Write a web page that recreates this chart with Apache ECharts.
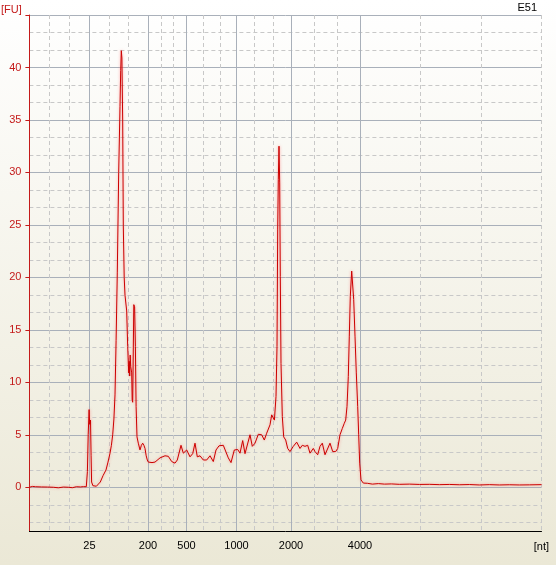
<!DOCTYPE html>
<html>
<head>
<meta charset="utf-8">
<title>E51</title>
<script src="https://cdn.jsdelivr.net/npm/echarts@6/dist/echarts.min.js"></script>
<style>
    html, body { margin: 0; padding: 0; }
    #chart { width: 556px; height: 565px; }
</style>
</head>
<body>
<div id="chart"></div>
<script>
// ladder: size labels and where they sit on the time axis (s)
const ladderSizes = ['25', '200', '500', '1000', '2000', '4000'];
const ladderTimes = [23.0, 28.86, 32.71, 37.71, 43.16, 50.06];
// dashed grid lines, three steps between ladder lines
const minorTimes = [19.0, 21.0, 24.95, 26.91, 30.14, 31.43, 34.38, 36.04, 39.53, 41.34, 45.46, 47.76, 56.11, 62.16, 68.21];
const timeMin = 17.0;
const timeMax = 68.21;

// y ticks [FU]
const fuTicks = [0, 5, 10, 15, 20, 25, 30, 35, 40, 45];
const fuLabels = [0, 5, 10, 15, 20, 25, 30, 35, 40];
const fuMin = -25 / 6;
const fuMax = 45;

// electropherogram trace
const migrationTime = [
    17.0, 17.3, 17.6, 18.2, 18.8, 19.4, 19.9, 20.4, 20.9, 21.3, 21.7, 22.1, 22.4, 22.69,
    22.80, 22.88, 22.97, 23.03, 23.11, 23.17, 23.22, 23.35, 23.5, 23.7, 23.9, 24.09, 24.36,
    24.66, 24.86, 25.06, 25.2, 25.33, 25.45, 25.56, 25.67, 25.79, 25.93, 26.06, 26.13, 26.19,
    26.25, 26.29, 26.33, 26.39, 26.48, 26.56, 26.73, 26.83, 26.93, 26.98, 27.03, 27.08, 27.13,
    27.23, 27.28, 27.33, 27.40, 27.44, 27.52, 27.60, 27.67, 27.76, 27.89, 28.06, 28.2, 28.33,
    28.45, 28.56, 28.68, 28.79, 28.89, 29.26, 29.56, 30.06, 30.56, 30.89, 31.23, 31.56, 31.79,
    32.16, 32.39, 32.73, 33.06, 33.33, 33.56, 33.79, 34.06, 34.39, 34.73, 35.06, 35.39, 35.66,
    35.96, 36.39, 36.56, 36.89, 37.16, 37.49, 37.83, 38.06, 38.33, 38.56, 38.73, 39.06, 39.29,
    39.56, 39.89, 40.23, 40.49, 40.73, 41.06, 41.23, 41.39, 41.50, 41.56, 41.66, 41.76, 41.83,
    41.89, 41.96, 42.03, 42.09, 42.16, 42.29, 42.43, 42.63, 42.83, 43.06, 43.39, 43.73, 44.06,
    44.29, 44.56, 44.83, 45.06, 45.39, 45.56, 45.83, 46.06, 46.29, 46.56, 46.76, 47.06, 47.33,
    47.63, 47.83, 48.06, 48.29, 48.49, 48.63, 48.76, 48.89, 48.99, 49.09, 49.23, 49.36, 49.43,
    49.56, 49.69, 49.83, 49.93, 50.03, 50.16, 50.26, 50.39, 50.8, 51.3, 51.9, 52.5, 53.2, 54.0,
    55.0, 56.0, 57.0, 58.0, 59.0, 60.0, 61.0, 62.0, 63.0, 64.0, 65.0, 66.0, 67.0, 68.21
];
const fluorescence = [
    0.0, 0.08, 0.05, 0.03, 0.02, 0.0, -0.05, 0.02, 0.0, -0.04, 0.05, 0.03, 0.06, 0.05,
    1.5, 5.0, 7.4, 6.0, 6.4, 3.0, 0.5, 0.15, 0.12, 0.1, 0.15, 0.5, 1.1,
    1.65, 2.4, 3.25, 4.0, 5.0, 6.5, 8.8, 14.0, 20.5, 30.0, 36.3, 39.7, 41.6,
    40.9, 41.0, 34.9, 24.9, 20.0, 18.3, 16.8, 13.4, 10.9, 12.0, 10.6, 12.6, 11.5,
    10.9, 8.3, 8.1, 8.2, 17.4, 17.2, 13.4, 7.7, 4.8, 4.2, 3.56, 4.0, 4.2,
    4.0, 3.7, 3.0, 2.6, 2.4, 2.35, 2.4, 2.8, 3.0, 2.95, 2.45, 2.3, 2.6,
    4.0, 3.25, 3.55, 2.9, 3.2, 4.2, 2.9, 3.0, 2.6, 2.6, 3.0, 2.45, 3.55,
    3.95, 4.0, 3.95, 2.8, 2.35, 3.55, 3.6, 3.25, 4.45, 3.2, 3.2, 5.0, 3.9,
    4.2, 5.05, 5.0, 4.5, 5.15, 5.95, 6.9, 7.05, 6.4, 6.5, 8.65, 13.4, 24.6,
    29.3, 32.5, 29.0, 20.1, 11.8, 6.75, 4.8, 4.5, 3.7, 3.4, 3.9, 4.3, 3.7,
    4.0, 3.9, 4.0, 3.25, 3.7, 3.4, 3.1, 3.9, 4.2, 3.1, 3.1, 4.2, 3.4,
    3.4, 3.7, 5.0, 5.6, 6.1, 6.4, 7.7, 10.55, 14.4, 18.2, 20.6, 20.5, 17.9,
    14.4, 10.9, 7.7, 5.0, 2.3, 0.7, 0.55, 0.4, 0.38, 0.3, 0.35, 0.3, 0.32, 0.28,
    0.3, 0.27, 0.28, 0.25, 0.27, 0.24, 0.26, 0.22, 0.25, 0.22, 0.24, 0.22, 0.23, 0.25
];

// dashed y lines, three steps between labelled ones
const fuMinor = [-10 / 3, -5 / 3];
fuTicks.slice(0, -1).forEach((v) => {
    fuMinor.push(v + 5 / 3, v + 10 / 3);
});

const red = '#c41a1a';
const solidGrid = '#a9b0ba';
const dashGrid = '#c8c8c8';
const font = 'Liberation Sans, Arial, sans-serif';

const chart = echarts.init(document.getElementById('chart'), null, { renderer: 'canvas' });

const option = {
    animation: false,
    backgroundColor: new echarts.graphic.LinearGradient(0, 0, 0, 1, [
        { offset: 0, color: '#ffffff' },
        { offset: 1, color: '#ebe8d6' }
    ]),
    grid: {
        left: 29.4,
        right: 14.5,
        top: 15,
        bottom: 34
    },
    graphic: [
        { type: 'text', left: 1, top: 4, style: { text: '[FU]', fill: red, font: '11px ' + font } },
        { type: 'text', right: 19, top: 2, style: { text: 'E51', fill: '#000', font: '11px ' + font } },
        { type: 'text', right: 7, top: 541, style: { text: '[nt]', fill: '#000', font: '11px ' + font } }
    ],
    xAxis: [
        {
            type: 'value',
            min: timeMin,
            max: timeMax,
            axisLine: { onZero: false, lineStyle: { color: '#000', width: 1 } },
            axisTick: { show: false, customValues: ladderTimes },
            axisLabel: {
                customValues: ladderTimes,
                margin: 9,
                color: '#000',
                fontFamily: font,
                fontSize: 11,
                formatter: (v) => {
                    const i = ladderTimes.findIndex((t) => Math.abs(t - v) < 0.01);
                    return i >= 0 ? ladderSizes[i] : '';
                }
            },
            splitLine: { show: true, lineStyle: { color: solidGrid, width: 1 } }
        },
        {
            type: 'value',
            min: timeMin,
            max: timeMax,
            axisLine: { show: false },
            axisTick: { show: false, customValues: minorTimes },
            axisLabel: { show: false },
            splitLine: { show: true, lineStyle: { color: dashGrid, width: 1, type: [4, 3] } }
        }
    ],
    yAxis: [
        {
            type: 'value',
            min: fuMin,
            max: fuMax,
            axisLine: { show: true, lineStyle: { color: red, width: 1 } },
            axisTick: { show: true, length: 4, customValues: fuTicks, lineStyle: { color: red } },
            axisLabel: {
                customValues: fuLabels,
                margin: 8,
                color: red,
                fontFamily: font,
                fontSize: 11
            },
            splitLine: { show: true, lineStyle: { color: solidGrid, width: 1 } }
        },
        {
            type: 'value',
            min: fuMin,
            max: fuMax,
            axisLine: { show: false },
            axisTick: { show: false, customValues: fuMinor },
            axisLabel: { show: false },
            splitLine: { show: true, lineStyle: { color: dashGrid, width: 1, type: [4, 3] } }
        }
    ],
    series: [
        {
            type: 'line',
            xAxisIndex: 0,
            yAxisIndex: 0,
            showSymbol: false,
            data: migrationTime.map((t, i) => [t, fluorescence[i]]),
            lineStyle: {
                color: '#cc0000',
                width: 1,
                shadowColor: 'rgba(255, 110, 110, 0.7)',
                shadowBlur: 3
            }
        }
    ]
};

chart.setOption(option);
</script>
</body>
</html>
